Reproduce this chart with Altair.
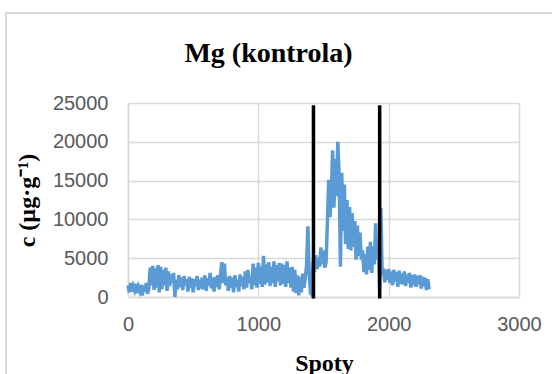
import altair as alt
import pandas as pd

spots = list(range(0, 2320, 10))
values = [
    1500, 600, 1800, 700, 1400, 900, 1700, 500, 1300, 800,
    1600, 200, 1500, 700, 1800, 400, 1200, 3800, 1500, 4000,
    900, 3700, 1200, 4100, 600, 3900, 1000, 3500, 1500, 3800,
    800, 3300, 1400, 2900, 1800, 3100, 0, 2200, 1000, 2800,
    1300, 2500, 900, 2700, 1500, 2300, 700, 2600, 1200, 2400,
    600, 2300, 1400, 2700, 900, 2200, 1700, 2500, 1000, 2800,
    800, 2400, 1500, 3100, 1100, 2500, 700, 2600, 1300, 2800,
    1000, 2900, 4500, 1800, 4300, 1500, 2600, 800, 2700, 1200,
    2500, 600, 2800, 1300, 2200, 700, 2900, 1400, 2600, 1000,
    3300, 1200, 3500, 1800, 2700, 1000, 4300, 1500, 3800, 1200,
    4400, 1700, 3900, 1300, 5300, 1600, 4200, 1900, 4500, 1400,
    3900, 1800, 4600, 1300, 4100, 2000, 4400, 1500, 4300, 1700,
    4100, 1300, 4600, 1800, 3800, 1200, 3900, 700, 3500, 500,
    2800, 200, 2600, 600, 3000, 1200, 2500, 4000, 9100, 3000,
    500, 300, 4600, 3200, 5400, 3600, 5100, 3900, 6400, 4200,
    6000, 3800, 4500, 9800, 15100, 10300, 13500, 18900, 11500, 17800,
    13000, 20000, 15500, 3900, 16000, 8500, 14500, 6800, 12500, 6200,
    11600, 6000, 10800, 6500, 9800, 4800, 9200, 5300, 8300, 4800,
    6000, 3200, 5500, 2900, 6500, 3500, 7100, 3100, 6500, 4200,
    9500, 4800, 7000, 900, 11500, 2800, 3700, 1900, 3500, 2200,
    3600, 1800, 3300, 1500, 3500, 2000, 3200, 1300, 3400, 1700,
    3000, 1600, 3300, 1400, 2900, 1800, 3100, 1200, 2800, 1500,
    2900, 1300, 2700, 1600, 2800, 1100, 2600, 1400, 2500, 900,
    2300, 1000,
]

# Vertical marker lines (spot positions) and their extent
marker_spots = [1423, 1931]
marker_bottom = [-200, -200]
marker_top = [24700, 24700]

x_ticks = [0, 1000, 2000, 3000]
y_ticks = [0, 5000, 10000, 15000, 20000, 25000]

df = pd.DataFrame({"spot": spots[: len(values)], "c": values})
mk = pd.DataFrame({"spot": marker_spots, "y0": marker_bottom, "y1": marker_top})

GRID = "#d9d9d9"
LABEL = "#595959"
SERIF = "Liberation Serif"
SANS = "Liberation Sans"

x_scale = alt.Scale(domain=[0, 3000], nice=False)
y_scale = alt.Scale(domain=[0, 25000], nice=False)

common_axis = dict(
    titleFont=SERIF,
    titleFontSize=24,
    titleFontWeight="bold",
    titleColor="black",
    labelFont=SANS,
    labelFontSize=20,
    labelColor=LABEL,
    labelOverlap=False,
    labelFlush=False,
    format="d",
    ticks=False,
    tickSize=0,
    domainColor=GRID,
    domainWidth=1.5,
    gridColor=GRID,
    gridWidth=1.5,
)

x_axis = alt.Axis(
    values=x_ticks,
    title="Spoty",
    titleX=196,
    titleY=73,
    titleAlign="center",
    titleBaseline="alphabetic",
    labelPadding=17,
    **common_axis,
)
y_axis = alt.Axis(
    values=y_ticks,
    title="c (µg·g⁻¹)",
    titleAngle=270,
    titleX=-101,
    titleY=97,
    titleAlign="center",
    titleBaseline="middle",
    labelPadding=20,
    **common_axis,
)

frame = alt.Chart(pd.DataFrame({"k": [0]})).mark_rect(
    fill="white", fillOpacity=0, stroke=GRID, strokeWidth=2
).encode(
    x=alt.value(-122), x2=alt.value(600), y=alt.value(-90), y2=alt.value(400)
)

line = alt.Chart(df).mark_line(color="#5b9bd5", strokeWidth=3.5).encode(
    x=alt.X("spot:Q", scale=x_scale, axis=x_axis),
    y=alt.Y("c:Q", scale=y_scale, axis=y_axis),
)

rules = alt.Chart(mk).mark_rule(color="black", strokeWidth=3.5).encode(
    x=alt.X("spot:Q", scale=x_scale, axis=x_axis),
    y=alt.Y("y0:Q", scale=y_scale, axis=y_axis),
    y2="y1:Q",
)

chart = (
    alt.layer(frame, line, rules)
    .properties(
        width=391,
        height=194,
        autosize=alt.AutoSizeParams(type="none"),
        padding={"left": 128, "top": 103, "right": 33, "bottom": 77},
        title=alt.TitleParams(
            "Mg (kontrola)",
            font=SERIF,
            fontSize=28,
            fontWeight="bold",
            color="black",
            anchor="middle",
            baseline="alphabetic",
            dx=-55,
            offset=-78,
        ),
    )
    .configure_view(stroke=None)
    .configure(background="white")
)

chart.save("out.html", embed_options={"renderer": "svg", "actions": False})
